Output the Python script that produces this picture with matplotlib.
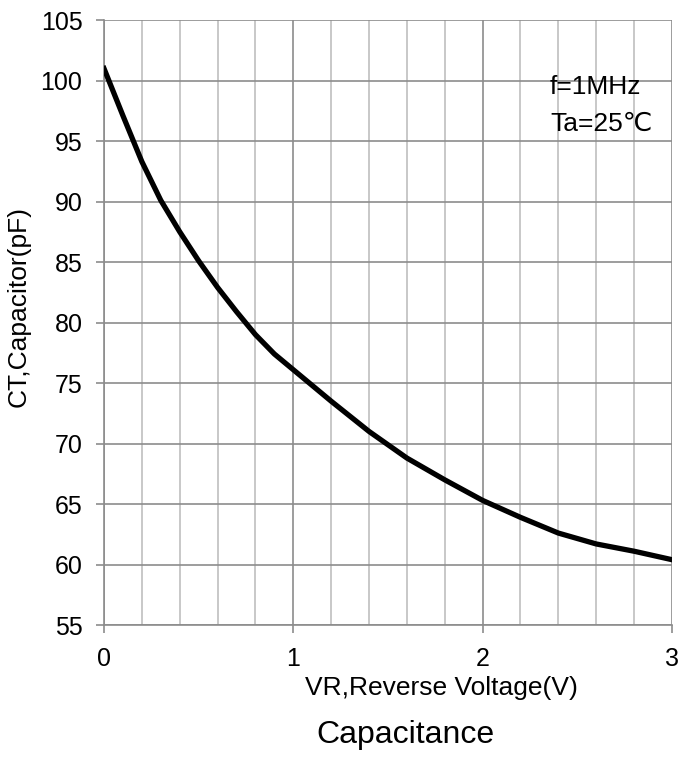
import numpy as np
import matplotlib.pyplot as plt
from matplotlib.ticker import MultipleLocator

plt.rcParams['font.family'] = ['Liberation Sans', 'DejaVu Sans']

# values
vr = [0.0, 0.1, 0.2, 0.3, 0.4, 0.5, 0.6, 0.7, 0.8, 0.9, 1.0, 1.2, 1.4, 1.6,
      1.8, 2.0, 2.2, 2.4, 2.6, 2.8, 3.0]
ct = [101.0, 97.1, 93.3, 90.1, 87.5, 85.1, 82.9, 80.9, 79.0, 77.4, 76.1, 73.5, 71.0, 68.8,
      67.0, 65.3, 63.9, 62.6, 61.7, 61.1, 60.4]

xticks = [0, 1, 2, 3]
yticks = list(range(55, 106, 5))

fig = plt.figure(figsize=(6.81, 7.6), dpi=100)
ax = fig.add_axes([0.1527, 0.1776, 0.834, 0.796])

ax.plot(vr, ct, color='black', lw=3.8, solid_joinstyle='round', zorder=3)

ax.set_xlim(0, 3)
ax.set_ylim(55, 105)
ax.set_xticks(xticks)
ax.set_yticks(yticks)
ax.xaxis.set_minor_locator(MultipleLocator(0.2))
ax.grid(which='major', color='#8c8c8c', lw=1.2)
ax.grid(which='minor', axis='x', color='#bfbfbf', lw=1.2)
ax.tick_params(which='both', labelsize=18, length=6, color='#8c8c8c', width=1.2)
ax.tick_params(which='minor', length=0)
ax.tick_params(axis='x', pad=10)
ax.tick_params(axis='y', pad=9.5)
for side in ['top', 'right']:
    ax.spines[side].set_visible(False)
for side in ['left', 'bottom']:
    ax.spines[side].set_color('#8c8c8c')
    ax.spines[side].set_linewidth(1.2)

ax.set_xlabel('VR,Reverse Voltage(V)', fontsize=19)
ax.xaxis.set_label_coords(0.595, -0.085)
ax.set_ylabel('CT,Capacitor(pF)', fontsize=19)
ax.yaxis.set_label_coords(-0.13, 0.527)

ax.text(2.356, 99.5, 'f=1MHz', fontsize=19, ha='left', va='center')
ax.text(2.356, 96.4, 'Ta=25\u2103', fontsize=19, ha='left', va='center')

fig.text(0.596, 0.033, 'Capacitance', fontsize=23, ha='center', va='center')

fig.savefig('out.png', dpi=100)
